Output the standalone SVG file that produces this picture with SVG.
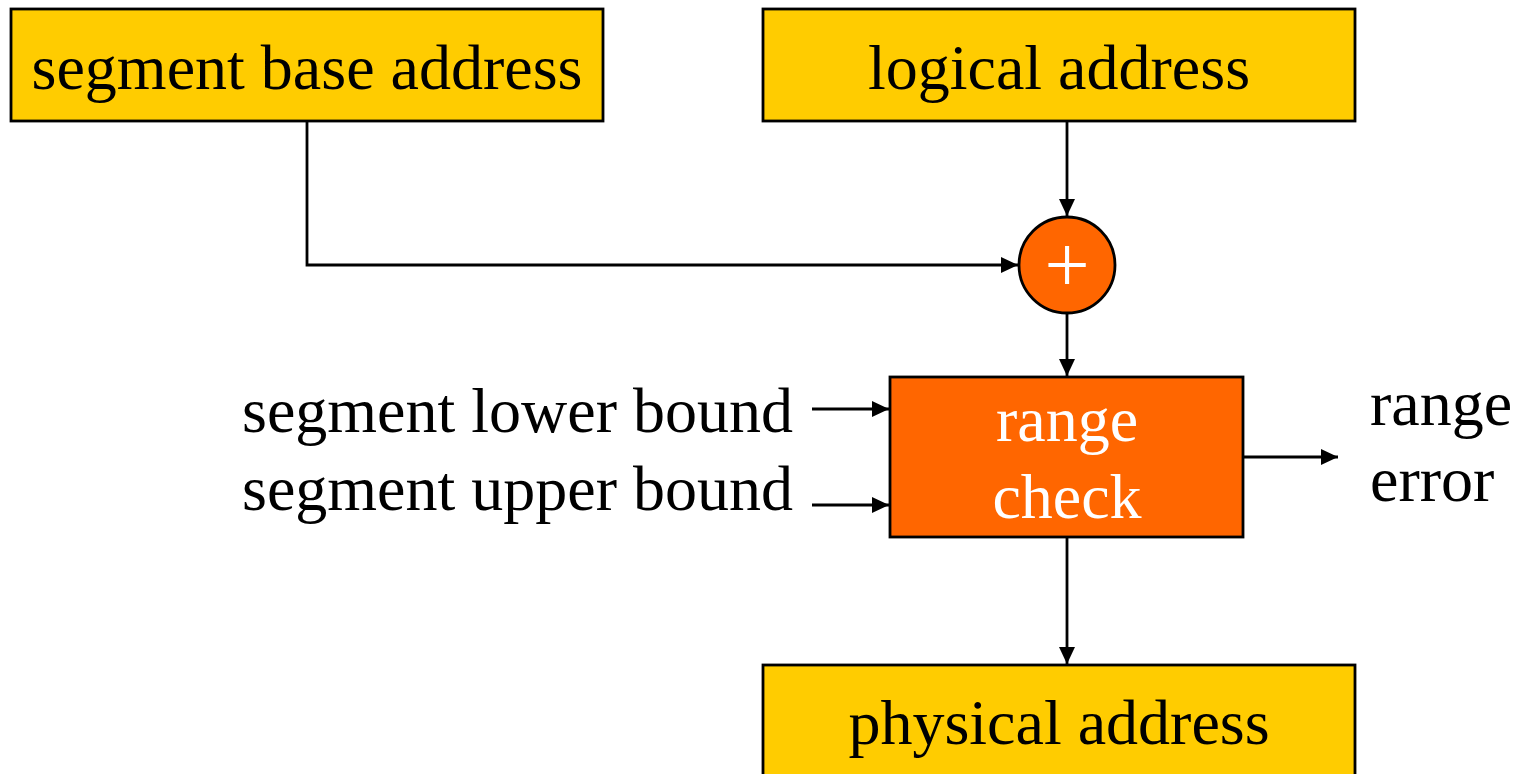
<svg xmlns="http://www.w3.org/2000/svg" width="1521" height="774" viewBox="0 0 1521 774">
<style>
.box{fill:#FFCC00;stroke:#000;stroke-width:2.8}
.org{fill:#FF6600;stroke:#000;stroke-width:2.8}
.t{font-family:"Liberation Serif","Times New Roman",serif;font-size:64px;fill:#000}
.w{fill:#fff}
.c{text-anchor:middle}
.ln{fill:none;stroke:#000;stroke-width:2.8}
</style>
<defs>
<marker id="ah" markerWidth="17" markerHeight="18" refX="17" refY="9" orient="auto" markerUnits="userSpaceOnUse">
<path d="M0,1 L17,9 L0,17 Z" fill="#000"/>
</marker>
</defs>
<rect width="1521" height="774" fill="#fff"/>
<g id="connectors">
<polyline class="ln" points="307,121 307,265 1018,265" marker-end="url(#ah)"/>
<line class="ln" x1="1067" y1="121" x2="1067" y2="216" marker-end="url(#ah)"/>
<line class="ln" x1="1067" y1="313" x2="1067" y2="376" marker-end="url(#ah)"/>
<line class="ln" x1="812" y1="409" x2="889" y2="409" marker-end="url(#ah)"/>
<line class="ln" x1="812" y1="505" x2="889" y2="505" marker-end="url(#ah)"/>
<line class="ln" x1="1243" y1="457" x2="1338" y2="457" marker-end="url(#ah)"/>
<line class="ln" x1="1067" y1="537" x2="1067" y2="664" marker-end="url(#ah)"/>
</g>
<g id="segment-base-address">
<rect class="box" x="11" y="9" width="592" height="112"/>
<text class="t c" x="307" y="89">segment base address</text>
</g>
<g id="logical-address">
<rect class="box" x="763" y="9" width="592" height="112"/>
<text class="t c" x="1059" y="89">logical address</text>
</g>
<g id="adder">
<circle class="org" cx="1067" cy="265" r="48"/>
<text class="t c w" x="1067" y="292" style="font-size:80px">+</text>
</g>
<g id="range-check">
<rect class="org" x="890" y="377" width="353" height="160"/>
<text class="t c w" x="1067" y="441">range</text>
<text class="t c w" x="1067" y="518">check</text>
</g>
<g id="lower-bound">
<text class="t" x="242" y="432">segment lower bound</text>
</g>
<g id="upper-bound">
<text class="t" x="242" y="510">segment upper bound</text>
</g>
<g id="range-error">
<text class="t" x="1370" y="425">range</text>
<text class="t" x="1370" y="501">error</text>
</g>
<g id="physical-address">
<rect class="box" x="763" y="665" width="592" height="120"/>
<text class="t c" x="1059" y="744">physical address</text>
</g>
</svg>
